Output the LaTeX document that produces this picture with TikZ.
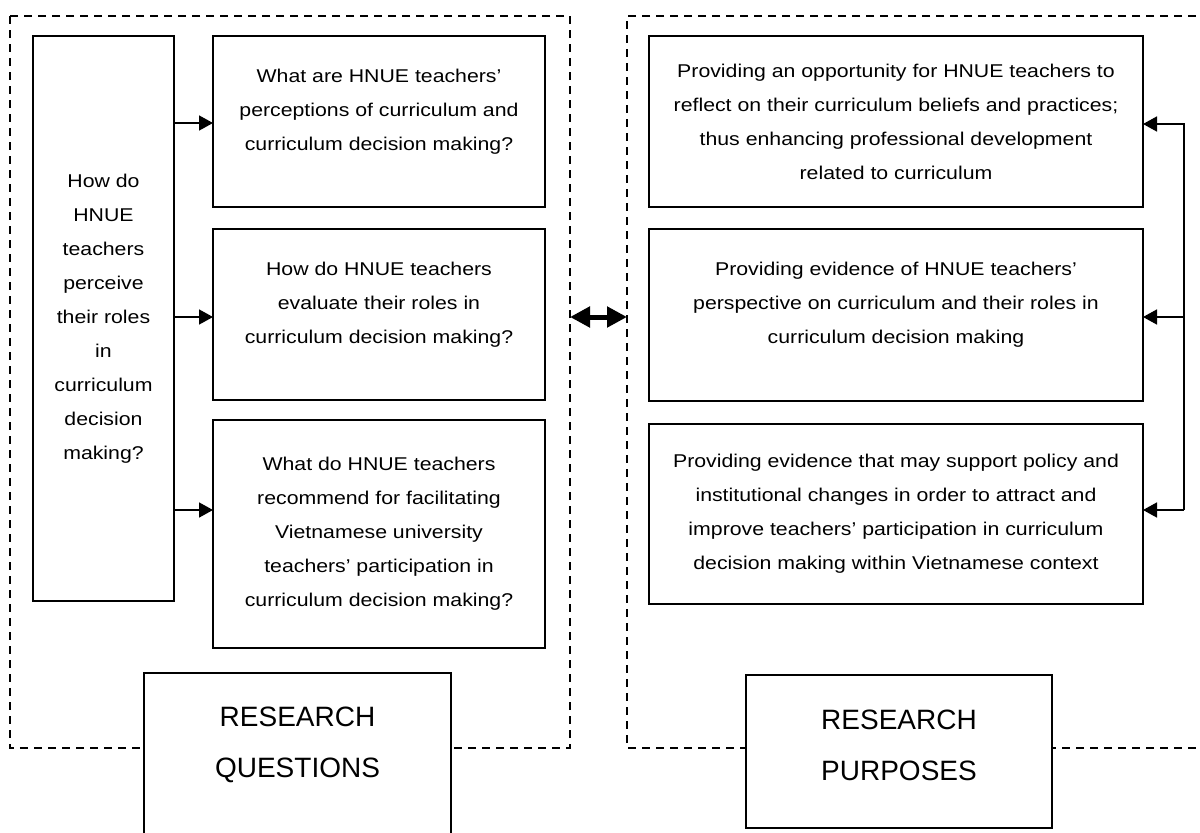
\documentclass[tikz,border=0pt]{standalone}
\usepackage{fontspec}
\setmainfont{Liberation Sans}
\newfontfamily\smallf{Liberation Sans}[FakeStretch=1.15]
\usetikzlibrary{arrows.meta}
\begin{document}
\begin{tikzpicture}[x=1pt,y=-1pt,
  box/.style={draw, line width=1.6pt, inner sep=0pt, outer sep=0pt, align=center,
    font=\smallf\fontsize{18.5}{34}\selectfont},
  raised/.style={text depth=24pt},
  frame/.style={line width=1.3pt, dash pattern=on 8pt off 6pt},
  arr/.style={line width=1.6pt, -{Triangle[length=14pt,width=15pt]}},
  dbl/.style={line width=5pt, {Triangle[length=20pt,width=20pt]}-{Triangle[length=20pt,width=20pt]}},
  bigbox/.style={draw, fill=white, line width=1.6pt, inner sep=0pt, outer sep=0pt},
  bigtext/.style={align=center, inner sep=0pt, font=\fontsize{28}{51}\selectfont}]
\useasboundingbox (0,0) rectangle (1200,833);
\clip (0,0) rectangle (1200,833);

% dashed frames
\draw[frame] (10,16) rectangle (570,748);
\draw[frame] (1210,16) -- (627,16) -- (627,748) -- (1210,748);

% left column
\node[box, minimum width=141pt, minimum height=565pt] (tall) at (103.5,318.5)
  {How do\\HNUE\\teachers\\perceive\\their roles\\in\\curriculum\\decision\\making?};
\node[box, raised, minimum width=332pt, minimum height=171pt] (q1) at (379,121.5)
  {What are HNUE teachers’\\perceptions of curriculum and\\curriculum decision making?};
\node[box, raised, minimum width=332pt, minimum height=171pt] (q2) at (379,314.5)
  {How do HNUE teachers\\evaluate their roles in\\curriculum decision making?};
\node[box, minimum width=332pt, minimum height=228pt] (q3) at (379,534)
  {What do HNUE teachers\\recommend for facilitating\\Vietnamese university\\teachers’ participation in\\curriculum decision making?};

\draw[arr] (tall.east |- 0,123) -- (q1.west |- 0,123);
\draw[arr] (tall.east |- 0,317) -- (q2.west |- 0,317);
\draw[arr] (tall.east |- 0,510) -- (q3.west |- 0,510);

% right column
\node[box, minimum width=494pt, minimum height=171pt] (r1) at (896,121.5)
  {Providing an opportunity for HNUE teachers to\\reflect on their curriculum beliefs and practices;\\thus enhancing professional development\\related to curriculum};
\node[box, raised, minimum width=494pt, minimum height=172pt] (r2) at (896,315)
  {Providing evidence of HNUE teachers’\\perspective on curriculum and their roles in\\curriculum decision making};
\node[box, minimum width=494pt, minimum height=180pt] (r3) at (896,514)
  {Providing evidence that may support policy and\\institutional changes in order to attract and\\improve teachers’ participation in curriculum\\decision making within Vietnamese context};

\coordinate (c1) at (1184,124);
\coordinate (c2) at (1184,317);
\coordinate (c3) at (1184,510);
\draw[arr] (c3) -- (c1) -- (r1.east |- c1);
\draw[arr] (c2) -- (r2.east |- c2);
\draw[arr] (c3) -- (r3.east |- c3);

% link between frames
\coordinate (dl) at (570,317);
\coordinate (dr) at (627,317);
\draw[dbl] (dl) -- (dr);

% titles
\node[bigbox, minimum width=307pt, minimum height=175pt] (rq) at (297.5,760.5) {};
\node[bigtext] (rqt) at (297.5,745) {RESEARCH\\QUESTIONS};
\node[bigbox, minimum width=306pt, minimum height=153pt] (rp) at (899,751.5) {};
\node[bigtext] (rpt) at (899,745) {RESEARCH\\PURPOSES};
\end{tikzpicture}
\end{document}
